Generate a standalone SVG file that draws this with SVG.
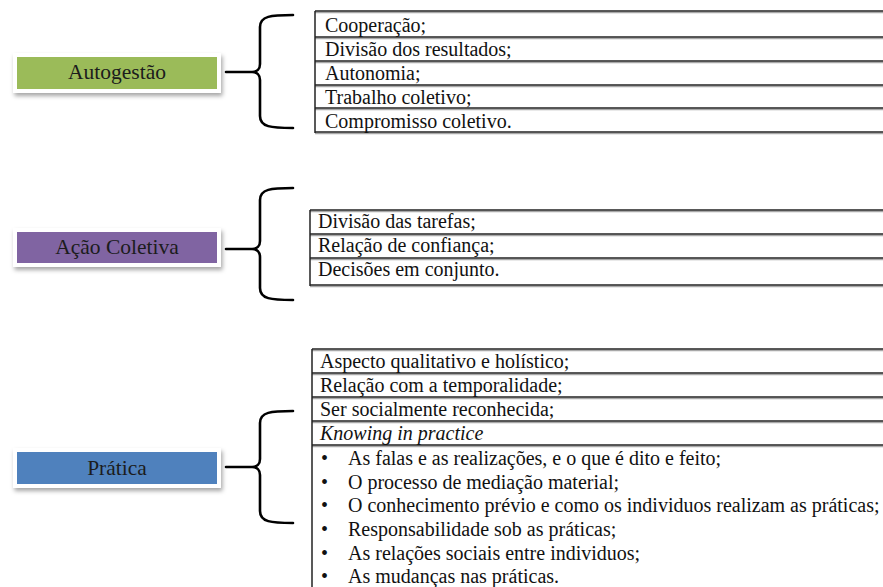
<svg xmlns="http://www.w3.org/2000/svg" width="883" height="587" viewBox="0 0 883 587">
<defs>
<filter id="sh" x="-10%" y="-30%" width="125%" height="180%">
<feDropShadow dx="1.5" dy="3" stdDeviation="2" flood-color="#000" flood-opacity="0.35"/>
</filter>
</defs>
<style>
.frame{fill:#fff;filter:url(#sh)}
.lbl{font-size:21.5px;fill:#1c1c1c;text-anchor:middle}
.t{font-size:20px;fill:#111}
.it{font-style:italic}
.hl{stroke:#222;stroke-width:1.3}
.hs{stroke:#a8a8a8;stroke-width:1.3}
.vl{stroke:#222;stroke-width:1.5}
.br{fill:none;stroke:#000;stroke-width:2.6;stroke-linecap:round;stroke-linejoin:round}
</style>
<rect width="883" height="587" fill="#fff"/>

<g id="autogestao">
<rect class="frame" x="13" y="53" width="208" height="40"/>
<rect x="17" y="57" width="200" height="32" fill="#9BBB59"/>
<text class="lbl" font-family="Liberation Serif, serif" x="117" y="79">Autogestão</text>
</g>

<g id="acao-coletiva">
<rect class="frame" x="13" y="228" width="208" height="39"/>
<rect x="17" y="232" width="200" height="31" fill="#8064A2"/>
<text class="lbl" font-family="Liberation Serif, serif" x="117" y="254">Ação Coletiva</text>
</g>

<g id="pratica">
<rect class="frame" x="13" y="448" width="208" height="40"/>
<rect x="17" y="452" width="200" height="32" fill="#4F81BD"/>
<text class="lbl" font-family="Liberation Serif, serif" x="117" y="475">Prática</text>
</g>

<g id="connectors">
<path class="br" d="M226 72 L252 72 M293 15 C271 15 260 16 260 27 L260 64 C260 69 257 72 252 72 C257 72 260 75 260 80 L260 116 C260 127 271 128 293 128"/>
<path class="br" d="M226 249 L252 249 M293 188 C271 188 260 189 260 200 L260 241 C260 246 257 249 252 249 C257 249 260 252 260 257 L260 288 C260 299 271 300 293 300"/>
<path class="br" d="M226 467 L252 467 M293 411 C271 411 260 412 260 423 L260 459 C260 464 257 467 252 467 C257 467 260 470 260 475 L260 511 C260 522 271 523 293 523"/>
</g>

<g id="table-autogestao">
<line class="hs" x1="315" y1="12.5" x2="883" y2="12.5"/>
<line class="hs" x1="315" y1="38.5" x2="883" y2="38.5"/>
<line class="hs" x1="315" y1="62.5" x2="883" y2="62.5"/>
<line class="hs" x1="315" y1="86.5" x2="883" y2="86.5"/>
<line class="hs" x1="315" y1="109.5" x2="883" y2="109.5"/>
<line class="hs" x1="315" y1="133.5" x2="883" y2="133.5"/>
<line class="hl" x1="315" y1="11" x2="883" y2="11"/>
<line class="hl" x1="315" y1="37" x2="883" y2="37"/>
<line class="hl" x1="315" y1="61" x2="883" y2="61"/>
<line class="hl" x1="315" y1="85" x2="883" y2="85"/>
<line class="hl" x1="315" y1="108" x2="883" y2="108"/>
<line class="hl" x1="315" y1="132" x2="883" y2="132"/>
<line class="vl" x1="315" y1="11" x2="315" y2="133"/>
<text class="t" font-family="Liberation Serif, serif" x="325" y="32">Cooperação;</text>
<text class="t" font-family="Liberation Serif, serif" x="325" y="56">Divisão dos resultados;</text>
<text class="t" font-family="Liberation Serif, serif" x="325" y="80">Autonomia;</text>
<text class="t" font-family="Liberation Serif, serif" x="325" y="104">Trabalho coletivo;</text>
<text class="t" font-family="Liberation Serif, serif" x="325" y="128">Compromisso  coletivo.</text>
</g>

<g id="table-acao-coletiva">
<line class="hs" x1="310" y1="211.5" x2="883" y2="211.5"/>
<line class="hs" x1="310" y1="235.5" x2="883" y2="235.5"/>
<line class="hs" x1="310" y1="259.5" x2="883" y2="259.5"/>
<line class="hs" x1="310" y1="286.5" x2="883" y2="286.5"/>
<line class="hl" x1="310" y1="210" x2="883" y2="210"/>
<line class="hl" x1="310" y1="234" x2="883" y2="234"/>
<line class="hl" x1="310" y1="258" x2="883" y2="258"/>
<line class="hl" x1="310" y1="285" x2="883" y2="285"/>
<line class="vl" x1="310" y1="210" x2="310" y2="286"/>
<text class="t" font-family="Liberation Serif, serif" x="318" y="228">Divisão das tarefas;</text>
<text class="t" font-family="Liberation Serif, serif" x="318" y="252">Relação de confiança;</text>
<text class="t" font-family="Liberation Serif, serif" x="318" y="276">Decisões em conjunto.</text>
</g>

<g id="table-pratica">
<line class="hs" x1="312" y1="350.5" x2="883" y2="350.5"/>
<line class="hs" x1="312" y1="374.5" x2="883" y2="374.5"/>
<line class="hs" x1="312" y1="398.5" x2="883" y2="398.5"/>
<line class="hs" x1="312" y1="422.5" x2="883" y2="422.5"/>
<line class="hs" x1="312" y1="446.5" x2="883" y2="446.5"/>
<line class="hl" x1="312" y1="349" x2="883" y2="349"/>
<line class="hl" x1="312" y1="373" x2="883" y2="373"/>
<line class="hl" x1="312" y1="397" x2="883" y2="397"/>
<line class="hl" x1="312" y1="421" x2="883" y2="421"/>
<line class="hl" x1="312" y1="445" x2="883" y2="445"/>
<line class="vl" x1="312" y1="349" x2="312" y2="587"/>
<text class="t" font-family="Liberation Serif, serif" x="320" y="368">Aspecto qualitativo e holístico;</text>
<text class="t" font-family="Liberation Serif, serif" x="320" y="392">Relação com a temporalidade;</text>
<text class="t" font-family="Liberation Serif, serif" x="320" y="416">Ser socialmente reconhecida;</text>
<text class="t it" font-family="Liberation Serif, serif" x="320" y="440">Knowing in practice</text>
<text class="t" font-family="Liberation Serif, serif" x="321" y="465">•</text>
<text class="t" font-family="Liberation Serif, serif" x="348" y="465">As falas e as realizações,  e o que é dito e feito;</text>
<text class="t" font-family="Liberation Serif, serif" x="321" y="489">•</text>
<text class="t" font-family="Liberation Serif, serif" x="348" y="489">O processo de mediação  material;</text>
<text class="t" font-family="Liberation Serif, serif" x="321" y="512">•</text>
<text class="t" font-family="Liberation Serif, serif" x="348" y="512">O conhecimento prévio e como os individuos realizam   as práticas;</text>
<text class="t" font-family="Liberation Serif, serif" x="321" y="536">•</text>
<text class="t" font-family="Liberation Serif, serif" x="348" y="536">Responsabilidade sob as práticas;</text>
<text class="t" font-family="Liberation Serif, serif" x="321" y="560">•</text>
<text class="t" font-family="Liberation Serif, serif" x="348" y="560">As relações sociais entre individuos;</text>
<text class="t" font-family="Liberation Serif, serif" x="321" y="583">•</text>
<text class="t" font-family="Liberation Serif, serif" x="348" y="583">As mudanças nas práticas.</text>
</g>
</svg>
